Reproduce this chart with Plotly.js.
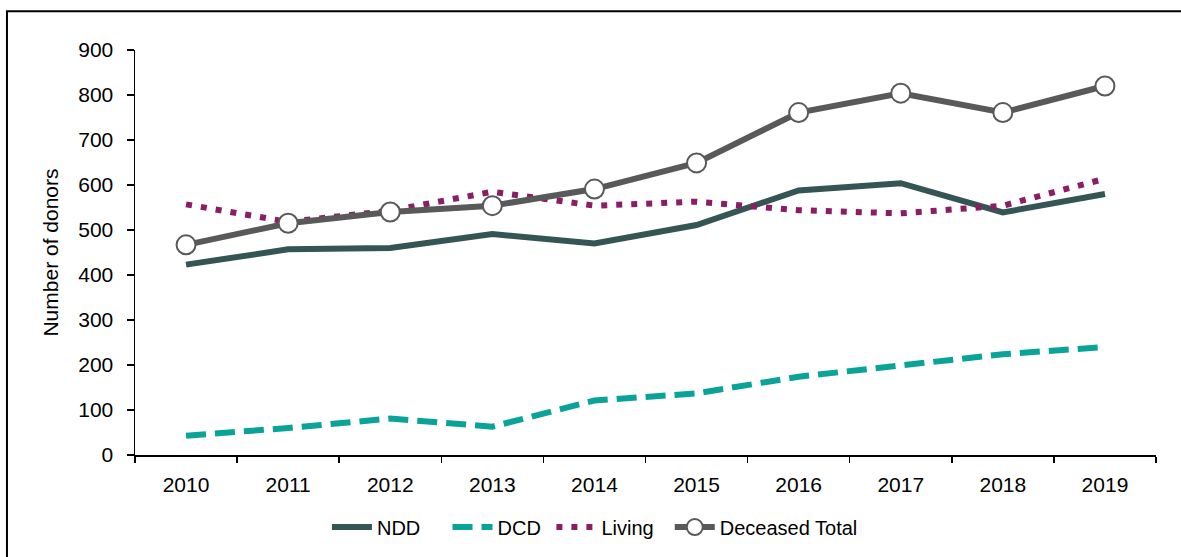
<!DOCTYPE html>
<html>
<head>
<meta charset="utf-8">
<script src="https://cdn.plot.ly/plotly-3.0.1.min.js"></script>
<style>
  html, body { margin: 0; padding: 0; background: #fff; }
  #chart { width: 1181px; height: 557px; }
</style>
</head>
<body>
<div id="chart"></div>
<script>
const years = ['2010','2011','2012','2013','2014','2015','2016','2017','2018','2019'];
const ndd = [423, 457, 460, 491, 470, 511, 588, 604, 539, 580];
const dcd = [43, 60, 81, 63, 121, 137, 174, 200, 224, 240];
const living = [557, 518, 543, 585, 554, 563, 544, 537, 554, 614];
const deceasedTotal = [467, 515, 540, 554, 591, 649, 761, 804, 761, 820];
const seriesNames = ['NDD', 'DCD', 'Living', 'Deceased Total'];

const FONT = '"Liberation Sans Narrow", "Arial Narrow", "Liberation Sans", Arial, sans-serif';
const NB = '\u00a0';
const pad = (s, n) => s + NB.repeat(n);

const traces = [
  { x: years, y: ndd, name: pad(seriesNames[0], 4), type: 'scatter', mode: 'lines',
    line: { color: '#355555', width: 6 } },
  { x: years, y: dcd, name: pad(seriesNames[1], 1), type: 'scatter', mode: 'lines',
    line: { color: '#0AA398', width: 6, dash: '20px,9px' } },
  { x: years, y: living, name: pad(seriesNames[2], 2), type: 'scatter', mode: 'lines',
    line: { color: '#8B1D62', width: 6, dash: '6px,9px' } },
  { x: years, y: deceasedTotal, name: seriesNames[3], type: 'scatter', mode: 'lines+markers',
    line: { color: '#595959', width: 6 },
    marker: { symbol: 'circle', size: 19, color: '#ffffff', line: { color: '#595959', width: 2 } } }
];

const layout = {
  width: 1181, height: 557,
  margin: { l: 135, r: 25, t: 50, b: 101 },
  paper_bgcolor: '#ffffff', plot_bgcolor: '#ffffff',
  font: { family: FONT, size: 21, color: '#000000' },
  showlegend: true,
  legend: { orientation: 'h', x: 0.188, xanchor: 'left', y: -0.175, yanchor: 'middle',
            font: { family: FONT, size: 20, color: '#000' }, itemwidth: 40 },
  xaxis: {
    type: 'category', range: [-0.5, 9.5], showgrid: false, zeroline: false,
    showline: true, linecolor: '#000', linewidth: 1.5,
    ticks: 'outside', ticklen: 6, tickcolor: '#000', tickwidth: 1.5, tickson: 'boundaries',
    ticklabelstandoff: 10,
    tickfont: { family: FONT, size: 21, color: '#000' }
  },
  yaxis: {
    range: [0, 900], dtick: 100, showgrid: false, zeroline: false,
    showline: true, linecolor: '#000', linewidth: 1.5,
    ticks: 'outside', ticklen: 7, tickcolor: '#000', tickwidth: 1.5,
    ticklabelstandoff: 9,
    tickfont: { family: FONT, size: 21, color: '#000' },
    title: { text: 'Number of donors', font: { family: FONT, size: 21, color: '#000' }, standoff: 14 }
  },
  shapes: [
    { type: 'rect', xref: 'paper', yref: 'paper', x0: -0.1254, x1: 1.2, y0: -0.6, y1: 1.0955,
      line: { color: '#000', width: 2 }, fillcolor: 'rgba(0,0,0,0)', layer: 'below' }
  ]
};

Plotly.newPlot('chart', traces, layout, { displayModeBar: false, staticPlot: true });
</script>
</body>
</html>
